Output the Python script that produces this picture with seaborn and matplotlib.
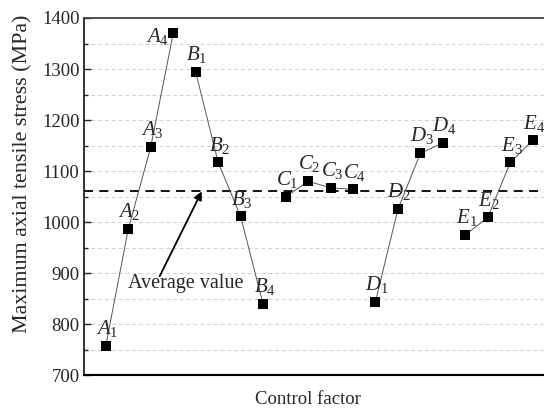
import matplotlib
matplotlib.use("Agg")
import matplotlib.pyplot as plt
import numpy as np
import pandas as pd
import seaborn as sns

# Range analysis: mean of the maximum axial tensile stress at each factor level
factors = ["A", "B", "C", "D", "E"]
levels = [1, 2, 3, 4]
stress_A = [757, 986, 1147, 1370]
stress_B = [1294, 1117, 1011, 839]
stress_C = [1049, 1080, 1067, 1064]
stress_D = [844, 1025, 1135, 1155]
stress_E = [975, 1009, 1117, 1160]
average_value = 1060

rows = []
pos = 1
for f, vals in zip(factors, [stress_A, stress_B, stress_C, stress_D, stress_E]):
    for lv, v in zip(levels, vals):
        rows.append({"factor": f, "level": lv, "pos": pos, "stress": v})
        pos += 1
df = pd.DataFrame(rows)

sns.set_style("ticks")
plt.rcParams["font.family"] = ["Liberation Serif", "DejaVu Serif"]
plt.rcParams["mathtext.fontset"] = "custom"
plt.rcParams["mathtext.rm"] = "Liberation Serif"
plt.rcParams["mathtext.it"] = "Liberation Serif:italic"

fig = plt.figure(figsize=(5.44, 4.09), dpi=100)
ax = fig.add_axes([0.154, 0.083, 0.846, 0.873])

# horizontal grid at every 50 MPa
for gy in np.arange(750, 1400, 50):
    ax.axhline(gy, color="#cfcfcf", lw=0.7, ls=(0, (4, 3)), zorder=0)

for f in factors:
    sub = df[df["factor"] == f]
    sns.lineplot(data=sub, x="pos", y="stress", ax=ax, color="#555555",
                 lw=0.7, legend=False, zorder=2)
sns.scatterplot(data=df, x="pos", y="stress", ax=ax, marker="s", s=42,
                color="black", edgecolor="black", linewidth=0, zorder=3,
                legend=False)

# level labels such as A_1 near each point
for _, r in df.iterrows():
    label = rf"${r['factor']}_{{{r['level']}}}$"
    if r["factor"] == "A" and r["level"] == 4:
        ax.annotate(label, (r["pos"], r["stress"]), xytext=(-3, -6),
                    textcoords="offset points", ha="right", va="baseline",
                    fontsize=15)
    else:
        ax.annotate(label, (r["pos"], r["stress"]), xytext=(1, 8.5),
                    textcoords="offset points", ha="center", va="baseline",
                    fontsize=15)

ax.axhline(average_value, color="black", lw=1.3, ls=(0, (5, 3.5)), zorder=1)
ax.annotate("", xy=(5.27, average_value), xytext=(3.4, 894),
            arrowprops=dict(arrowstyle="-|>", color="black", lw=1.3,
                            mutation_scale=12, shrinkA=0, shrinkB=0))
ax.text(4.56, 880, "Average value", ha="center", va="center", fontsize=14.5)

ax.set_xlim(0.02, 20.5)
ax.set_ylim(700, 1400)
ax.set_yticks(np.arange(700, 1401, 100))
ax.set_yticks(np.arange(750, 1400, 100), minor=True)
ax.set_xticks([])
ax.tick_params(axis="y", which="major", direction="in", length=5, width=1,
               labelsize=13.5, pad=3)
ax.tick_params(axis="y", which="minor", direction="in", length=3, width=1)

ax.set_xlabel("Control factor", fontsize=13.5)
ax.xaxis.set_label_coords(0.487, -0.045)
ax.set_ylabel("Maximum axial tensile stress (MPa)", fontsize=15.8)
ax.yaxis.set_label_coords(-0.112, 0.565)

ax.spines["right"].set_visible(False)
ax.spines["top"].set_color("#444444")
ax.spines["top"].set_linewidth(1.3)
ax.spines["left"].set_color("#222222")
ax.spines["left"].set_linewidth(1.3)
ax.spines["bottom"].set_color("black")
ax.spines["bottom"].set_linewidth(1.5)

fig.savefig("out.png", dpi=100)
